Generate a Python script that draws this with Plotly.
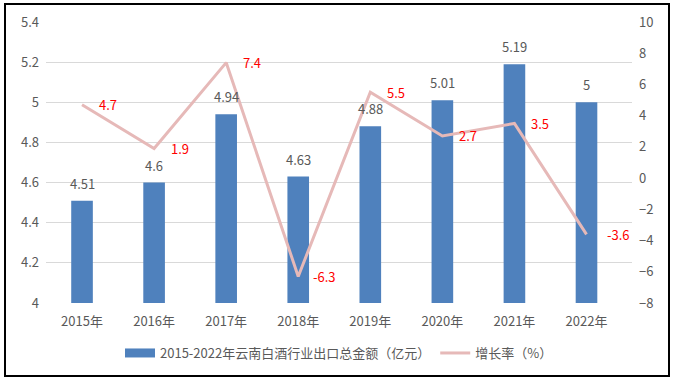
import plotly.graph_objects as go

years = ["2015年", "2016年", "2017年", "2018年", "2019年", "2020年", "2021年", "2022年"]
export_value = [4.51, 4.6, 4.94, 4.63, 4.88, 5.01, 5.19, 5.0]
growth_rate = [4.7, 1.9, 7.4, -6.3, 5.5, 2.7, 3.5, -3.6]
bar_name = "2015-2022年云南白酒行业出口总金额（亿元）"
line_name = "增长率（%）"

FONT = "Noto Sans CJK SC, Noto Sans, sans-serif"
GREY = "#595959"
BAR_COLOR = "#4F81BD"
LINE_COLOR = "#E6B9B8"

fig = go.Figure()
fig.add_trace(go.Bar(
    x=years, y=export_value, name=bar_name, showlegend=False,
    marker=dict(color=BAR_COLOR, line=dict(color=BAR_COLOR, width=0)),
    width=0.3,
))
# legend-only entry to mimic the wide rectangular swatch
fig.add_trace(go.Scatter(
    x=[None], y=[None], name=bar_name, mode="lines",
    line=dict(color=BAR_COLOR, width=9),
))
fig.add_trace(go.Scatter(
    x=years, y=growth_rate, name=line_name, yaxis="y2",
    mode="lines", line=dict(color=LINE_COLOR, width=3),
))

annotations = []
for yr, v in zip(years, export_value):
    annotations.append(dict(
        x=yr, y=v, xref="x", yref="y", text=f"{v:g}", showarrow=False,
        yanchor="bottom", yshift=6, font=dict(size=13, color=GREY, family=FONT),
    ))
for yr, v in zip(years, growth_rate):
    annotations.append(dict(
        x=yr, y=v, xref="x", yref="y2", text=f"{v:g}", showarrow=False,
        xanchor="center", xshift=26 if v != -3.6 else 32,
        font=dict(size=13, color="#FF0000", family=FONT),
    ))

fig.update_layout(
    width=674, height=381,
    margin=dict(l=46, r=42, t=22, b=78),
    paper_bgcolor="white", plot_bgcolor="white",
    font=dict(family=FONT, size=13, color=GREY),
    showlegend=True,
    legend=dict(orientation="h", x=0.5, xanchor="center", y=-0.178, yanchor="middle",
                font=dict(size=13, color=GREY, family=FONT)),
    xaxis=dict(showgrid=False, showline=False, ticks="", ticklabelstandoff=9,
               tickfont=dict(size=13, color=GREY)),
    yaxis=dict(range=[4, 5.4], dtick=0.2, showgrid=True, gridcolor="#D9D9D9", gridwidth=1,
               zeroline=False, showline=False, ticks="", ticklabelstandoff=6,
               tickfont=dict(size=13, color=GREY)),
    yaxis2=dict(range=[-8, 10], dtick=2, overlaying="y", side="right", showgrid=False,
                zeroline=False, showline=False, ticks="", ticklabelstandoff=6,
                tickfont=dict(size=13, color=GREY)),
    annotations=annotations,
    shapes=[dict(type="rect", xref="paper", yref="paper",
                 x0=(5 - 46) / 586, x1=(669 - 46) / 586,
                 y0=(303 - 376) / 281, y1=(303 - 4) / 281,
                 line=dict(color="#000000", width=2), fillcolor="rgba(0,0,0,0)", layer="above")],
)

fig.write_html("out.html", config={"displayModeBar": False},
               post_script="document.body.style.margin='0px';")
